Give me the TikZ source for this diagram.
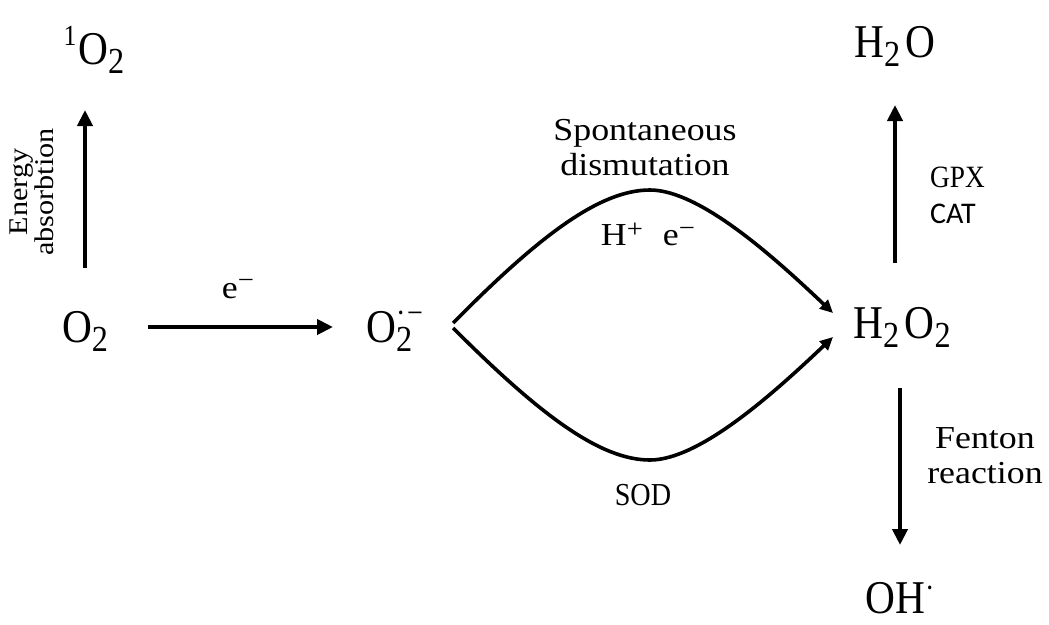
\documentclass[tikz,border=0pt]{standalone}
\usepackage{fontspec}
\setmainfont[FakeStretch=1.12]{Liberation Serif}
\newfontfamily\chemfont[FakeStretch=0.88]{Liberation Serif}
\newfontfamily\calib{Carlito}
\usetikzlibrary{arrows.meta}

\newcommand\chsub[1]{\raisebox{-0.2em}{\scalebox{0.78}{#1}}}
\newcommand\chsup[3][0.45em]{\raisebox{#1}{\scalebox{#2}{#3}}}

\tikzset{
  chem/.style={font=\chemfont\fontsize{47}{50}\selectfont, inner sep=0pt, anchor=base},
  lbl/.style={font=\fontsize{32}{35}\selectfont, align=center, inner sep=0pt},
  rxn/.style={line width=4.5pt, -{Triangle[length=16pt,width=15pt]}},
  curverxn/.style={line width=3.6pt, -{Triangle[length=13pt,width=12pt]}}
}

\begin{document}
\begin{tikzpicture}[x=1pt,y=-1pt]
    \useasboundingbox (0,0) rectangle (1049,624);

    % Species
    \node[chem] (singlet) at (94,64) {\chsup[0.4em]{0.62}{1}\kern0.04em O\chsub{2}};
    \node[chem] (o2) at (85,342) {O\chsub{2}};
    \node[chem, anchor=base west] (superox) at (366,342) {O\rlap{\chsub{2}}\chsup[0.4em]{0.68}{·\kern0.05em−}};
    \node[chem, anchor=base west] (hperox) at (853,338) {H\chsub{2}\kern0.12em O\chsub{2}};
    \node[chem] (water) at (895,57) {H\chsub{2}\kern0.12em O};
    \node[chem] (hydroxyl) at (900,613) {OH\chsup[0.3em]{0.68}{·}};

    % Reactions
    \draw[rxn, shorten <=74, shorten >=46] (o2.base) -- (o2.base |- singlet.base);
    \draw[rxn] ([shift={(40,-15)}]o2.base east) -- ([shift={(-33,-15)}]superox.base west);
    \draw[curverxn] ([shift={(30,-19)}]superox.base east)
        .. controls (540,235) and (600,190) .. (650,190)
        .. controls (700,190) and (775,258) .. ([shift={(-20,-25)}]hperox.base west);
    \draw[curverxn] ([shift={(30,-14)}]superox.base east)
        .. controls (540,415) and (600,460) .. (650,460)
        .. controls (700,460) and (775,392) .. ([shift={(-20,-1)}]hperox.base west);
    \draw[rxn, shorten <=75, shorten >=48] (water.base |- hperox.base) -- (water.base);
    \draw[rxn, shorten <=50, shorten >=68] (hydroxyl.base |- hperox.base) -- (hydroxyl.base);

    % Labels
    \node[lbl, rotate=90, font=\fontsize{27}{20}\selectfont] (energy) at (32,192) {Energy\\absorbtion};
    \node[lbl, anchor=base] (eminus) at (238,298) {e\chsup[0.3em]{0.8}{−}};
    \node[lbl] (spont) at (645,148) {Spontaneous\\dismutation};
    \node[lbl, anchor=base] (hplus) at (648,245) {H\chsup[0.25em]{0.8}{+}\hspace{20pt}e\chsup[0.28em]{0.8}{−}};
    \node[lbl, anchor=base, font=\chemfont\fontsize{32}{35}\selectfont] (sod) at (643,505) {SOD};
    \node[lbl, anchor=base west, font=\chemfont\fontsize{31}{35}\selectfont] (gpx) at (930,187) {GPX};
    \node[lbl, anchor=base west, font=\calib\fontsize{30}{35}\selectfont] (cat) at (930,223) {CAT};
    \node[lbl, font=\fontsize{32}{35}\selectfont] (fenton) at (985,456) {Fenton\\reaction};
\end{tikzpicture}
\end{document}
